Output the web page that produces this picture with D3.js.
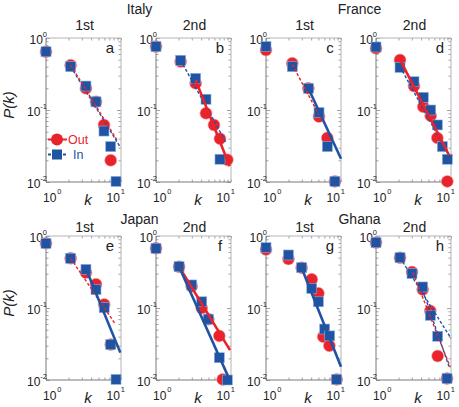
<!DOCTYPE html>
<html><head><meta charset="utf-8">
<script src="https://cdn.jsdelivr.net/npm/d3@7/dist/d3.min.js"></script>
<style>body{margin:0;background:#fff} svg{display:block;font-family:"Liberation Sans",Arial,sans-serif}</style>
</head><body><svg id="c" width="459" height="407"></svg>
<script>
// ---- data ----
const panelIds = ["a","b","c","d","e","f","g","h"];
const countries = ["Italy","France","Japan","Ghana"];
const waves = ["1st","2nd"];
const xTicks = [1,10];
const yTicks = [0.01,0.1,1];
const seriesNames = ["Out","In"];

// [k, P(k)] pairs
const outA = [[1,0.645],[2.13,0.42],[3.41,0.20],[4.64,0.13],[5.93,0.062],[7.29,0.020]];
const inA  = [[1,0.645],[2.13,0.40],[3.41,0.215],[4.64,0.13],[5.93,0.051],[7.29,0.031],[8.58,0.0102]];
const outB = [[1,0.76],[2.13,0.47],[3.38,0.235],[4.64,0.09],[5.93,0.062],[7.13,0.040],[8.93,0.0203]];
const inB  = [[1,0.76],[2.13,0.49],[3.38,0.275],[4.64,0.141],[7.13,0.0207]];
const outC = [[1,0.68],[2.24,0.445],[3.67,0.20],[5.09,0.081],[6.57,0.041],[8.3,0.0102]];
const inC  = [[1,0.76],[2.24,0.40],[3.67,0.20],[5.09,0.092],[6.57,0.031],[8.3,0.0102]];
const outD = [[1,0.72],[2.09,0.495],[3.21,0.215],[4.27,0.111],[5.36,0.083],[6.57,0.041],[8.93,0.0102]];
const inD  = [[1,0.75],[2.09,0.39],[3.21,0.247],[4.27,0.15],[5.36,0.10],[6.57,0.062],[7.66,0.031],[8.93,0.0207]];
const outE = [[1,0.79],[2.13,0.49],[3.41,0.31],[4.64,0.213],[5.97,0.112],[7.3,0.031]];
const inE  = [[1,0.79],[2.13,0.49],[3.41,0.344],[4.64,0.18],[5.97,0.101],[7.3,0.031],[8.58,0.0102]];
const outF = [[1,0.675],[2.03,0.375],[2.99,0.20],[4.07,0.10],[4.99,0.07],[6.98,0.041],[7.75,0.0102]];
const inF  = [[1,0.675],[2.03,0.375],[2.99,0.209],[4.07,0.122],[4.99,0.07],[6.98,0.0204],[8.93,0.0100]];
const outG = [[1,0.65],[1.99,0.48],[2.99,0.363],[4.07,0.25],[4.99,0.16],[5.8,0.040],[7.0,0.030],[8.76,0.0102]];
const inG  = [[1,0.69],[1.99,0.545],[2.99,0.363],[4.07,0.187],[4.99,0.122],[6.06,0.051],[7.07,0.041],[8.76,0.0102]];
const outH = [[1,0.81],[2.09,0.50],[3.02,0.316],[4.19,0.18],[5.3,0.091],[6.64,0.0215],[8.85,0.0105]];
const inH  = [[1,0.81],[2.09,0.50],[3.02,0.30],[4.19,0.196],[5.3,0.079],[6.64,0.0405],[8.85,0.0105]];

// fitted power-law segments: [series, kind, k1, P1, k2, P2]
const fitsA = [["In","dash",2.13,0.40,9.7,0.031],["Out","dash",2.13,0.42,9.0,0.037]];
const fitsB = [["In","dash",2.13,0.49,8.5,0.036],["Out","solid",3.38,0.26,9.6,0.0165]];
const fitsC = [["Out","dash",2.24,0.43,5.09,0.085],["In","solid",3.67,0.2,10,0.021]];
const fitsD = [["In","dash",2.09,0.40,9.2,0.024],["Out","solid",2.09,0.5,9.4,0.0237]];
const fitsE = [["Out","dash",2.13,0.49,8.3,0.061],["In","solid",3.41,0.35,9.8,0.024]];
const fitsF = [["Out","solid",2.03,0.375,9.7,0.026],["In","solid",2.03,0.375,9.7,0.0098]];
const fitsG = [["In","solid",2.99,0.36,10,0.0153]];
const fitsH = [["In","dash",2.09,0.5,10,0.038],["Out","dash",3.1,0.31,9.8,0.015],["In","dash",3.9,0.22,9.6,0.0145]];

const outData = [outA,outB,outC,outD,outE,outF,outG,outH];
const inData  = [inA,inB,inC,inD,inE,inF,inG,inH];
const fitData = [fitsA,fitsB,fitsC,fitsD,fitsE,fitsF,fitsG,fitsH];

// ---- layout / style ----
const RED = "#e8232b", BLUE = "#2153a3";
const colorOf = s => s === "Out" ? RED : BLUE;
const lefts = [46,156,266,376], tops = [38,236], W = 75, H = 144;
const svg = d3.select("#c");

panelIds.forEach((id, i) => {
  const L = lefts[i % 4], T = tops[Math.floor(i / 4)], R = L + W, B = T + H;
  const x = d3.scaleLog().domain(d3.extent(xTicks)).range([L, R]);
  const y = d3.scaleLog().domain(d3.extent(yTicks)).range([B, T]);
  const g = svg.append("g");

  // ticks (inward) using d3 axes
  const xt = [];
  for (let d = 1; d < 10; d++) xt.push(d);
  xt.push(10);
  const yt = [];
  [0.01, 0.1].forEach(b => { for (let d = 1; d < 10; d++) yt.push(b * d); });
  yt.push(1);
  const tickLen = v => (Math.abs(Math.log10(v) - Math.round(Math.log10(v))) < 1e-6 ? 4 : 2.5);
  const axStyle = sel => { sel.select(".domain").remove(); sel.selectAll("text").remove(); sel.selectAll("line").attr("stroke", "#8a8a8a").attr("stroke-width", 0.8); };
  g.append("g").attr("transform", `translate(0,${B})`).call(d3.axisBottom(x).tickValues(xt).tickSize(-2.5)).call(axStyle);
  g.append("g").attr("transform", `translate(0,${T})`).call(d3.axisTop(x).tickValues(xt).tickSize(-2.5)).call(axStyle);
  const la = g.append("g").attr("transform", `translate(${L},0)`).call(d3.axisLeft(y).tickValues(yt).tickSize(-2.5)).call(axStyle);
  la.selectAll("line").attr("x2", d => tickLen(d));
  const ra = g.append("g").attr("transform", `translate(${R},0)`).call(d3.axisRight(y).tickValues(yt).tickSize(-2.5)).call(axStyle);
  ra.selectAll("line").attr("x2", d => -tickLen(d));

  // frame
  g.append("line").attr("x1", L).attr("x2", R).attr("y1", T).attr("y2", T).attr("stroke", "#b4b4b4");
  g.append("line").attr("x1", R).attr("x2", R).attr("y1", T).attr("y2", B).attr("stroke", "#b4b4b4");
  g.append("line").attr("x1", L).attr("x2", L).attr("y1", T).attr("y2", B).attr("stroke", "#7a7a7a");
  g.append("line").attr("x1", L).attr("x2", R).attr("y1", B).attr("y2", B).attr("stroke", "#7a7a7a");

  // y tick labels
  yTicks.forEach(v => {
    const t = g.append("text").attr("x", L + 1).attr("y", y(v) + 6).attr("text-anchor", "end").attr("fill", "#222");
    t.append("tspan").attr("font-size", 12).text("10");
    t.append("tspan").attr("font-size", 7.5).attr("dy", -7).text(Math.round(Math.log10(v)));
  });
  // x tick labels
  xTicks.forEach((v, j) => {
    const t = g.append("text").attr("y", B + 20).attr("fill", "#222")
      .attr("x", j === 0 ? x(v) - 3 : x(v) + 4).attr("text-anchor", j === 0 ? "start" : "end");
    t.append("tspan").attr("font-size", 12).text("10");
    t.append("tspan").attr("font-size", 7.5).attr("dy", -8).attr("dx", 1).text(Math.round(Math.log10(v)));
  });
  g.append("text").attr("x", L + 42).attr("y", B + 23).attr("text-anchor", "middle")
    .attr("font-size", 15).attr("font-style", "italic").attr("fill", "#222").text("k");
  if (i % 4 === 0) {
    g.append("text").attr("transform", `translate(14,${(T + B) / 2 - 5}) rotate(-90)`)
      .attr("text-anchor", "middle").attr("font-size", 15).attr("font-style", "italic").attr("fill", "#222").text("P(k)");
  }
  // panel letter
  g.append("text").attr("x", R - 11).attr("y", T + 15).attr("text-anchor", "middle")
    .attr("font-size", 15).attr("fill", "#222").text(id);
  // wave title
  g.append("text").attr("x", (L + R) / 2 + 1).attr("y", T - (i < 4 ? 8 : 4)).attr("text-anchor", "middle")
    .attr("font-size", 14).attr("fill", "#222").text(waves[i % 2]);
  if (i % 2 === 0) {
    g.append("text").attr("x", R + (lefts[(i % 4) + 1] - R) / 2 + 1).attr("y", i < 4 ? 14 : 224).attr("text-anchor", "middle")
      .attr("font-size", 14).attr("fill", "#222").text(countries[Math.floor(i / 2)]);
  }

  // markers: circles (Out) below squares (In)
  const line = d3.line().x(d => x(d[0])).y(d => y(d[1]));
  g.selectAll("circle.o").data(outData[i]).join("circle").attr("class", "o")
    .attr("cx", d => x(d[0])).attr("cy", d => y(d[1])).attr("r", 6)
    .attr("fill", RED).attr("stroke", "#f4a0a4").attr("stroke-width", 0.6);
  g.selectAll("rect.i").data(inData[i]).join("rect").attr("class", "i")
    .attr("x", d => x(d[0]) - 5).attr("y", d => y(d[1]) - 5).attr("width", 10).attr("height", 10)
    .attr("fill", BLUE).attr("stroke", "#8fb0e0").attr("stroke-width", 0.6);

  // fitted lines on top
  fitData[i].forEach(f => {
    g.append("path").datum([[f[2], f[3]], [f[4], f[5]]]).attr("d", line)
      .attr("fill", "none").attr("stroke", colorOf(f[0]))
      .attr("stroke-width", f[1] === "solid" ? 2.6 : 1.4)
      .attr("stroke-dasharray", f[1] === "solid" ? null : "3,2");
  });

  // legend in first panel
  if (i === 0) {
    const lg = g.append("g");
    seriesNames.forEach((s, j) => {
      const yy = 139.5 + j * 15;
      lg.append("line").attr("x1", 48).attr("x2", 67).attr("y1", yy).attr("y2", yy)
        .attr("stroke", colorOf(s)).attr("stroke-width", 2).attr("stroke-dasharray", s === "Out" ? null : "3,2");
      if (s === "Out") lg.append("circle").attr("cx", 57).attr("cy", yy).attr("r", 6).attr("fill", RED);
      else lg.append("rect").attr("x", 52).attr("y", yy - 5).attr("width", 10).attr("height", 10).attr("fill", BLUE);
      lg.append("text").attr("x", s === "Out" ? 68 : 73).attr("y", yy + 4.5).attr("font-size", 12.5)
        .attr("fill", colorOf(s)).text(s);
    });
  }
});
</script></body></html>
